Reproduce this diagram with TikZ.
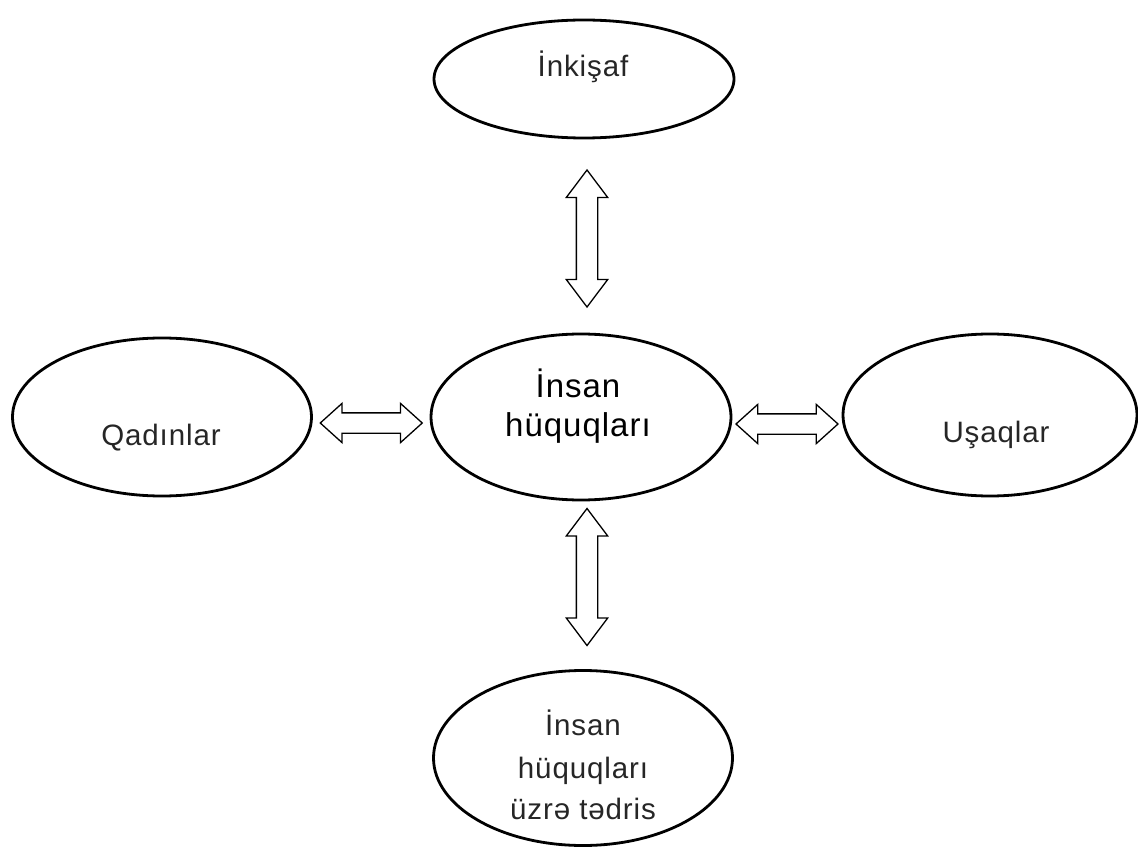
\documentclass[tikz,border=0pt]{standalone}
\usepackage{fontspec}
\setmainfont{Liberation Sans}[LetterSpace=3]
\usetikzlibrary{shapes.geometric,shapes.arrows,calc}
\begin{document}
\begin{tikzpicture}[x=1pt,y=-1pt,
  oval/.style={ellipse,draw,line width=2.8pt,inner sep=0pt},
  lbl/.style={anchor=base,inner sep=0pt,text=black!85,font=\fontsize{29.5}{34}\selectfont},
  lblc/.style={anchor=base,inner sep=0pt,text=black,font=\fontsize{33}{38}\selectfont},
  harr/.style={double arrow,draw,line width=1.3pt,inner sep=9.5pt,double arrow head extend=9.5pt,
    double arrow tip angle=84,minimum height=102pt,font=\normalsize},
  varr/.style={double arrow,draw,line width=1.3pt,inner sep=10pt,double arrow head extend=10pt,
    double arrow tip angle=74,minimum height=137pt,rotate=90,font=\normalsize}
]
\useasboundingbox (0,0) rectangle (1138,850);
% ellipses
\node[oval,minimum width=300pt,minimum height=118pt] (top) at (584,79) {};
\node[oval,minimum width=299pt,minimum height=158pt] (left) at (162,417) {};
\node[oval,minimum width=300pt,minimum height=166pt] (mid) at (581,417) {};
\node[oval,minimum width=294pt,minimum height=162pt] (right) at (990,415) {};
\node[oval,minimum width=299pt,minimum height=175pt] (bot) at (583,758) {};
% texts
\node[lbl] (ttop) at (583,77) {İnkişaf};
\node[lbl] (tleft) at (161,445) {Qadınlar};
\node[lbl] (tright) at (996,442) {Uşaqlar};
\node[lblc] (tmid1) at (578,397) {İnsan};
\node[lblc] (tmid2) at (578,436) {hüquqları};
\node[lbl] (tbot1) at (583,735) {İnsan};
\node[lbl] (tbot2) at (583,778) {hüquqları};
\node[lbl] (tbot3) at (583,819) {üzrə tədris};
% double arrows
\node[varr] (a1) at (587,238.5) {};
\node[varr] (a2) at (587,577) {};
\node[harr] (a3) at ($(left.east)!0.5!(mid.west)+(0,6)$) {};
\node[harr] (a4) at ($(mid.east)!0.5!(right.west)+(0,8)$) {};
\end{tikzpicture}
\end{document}
